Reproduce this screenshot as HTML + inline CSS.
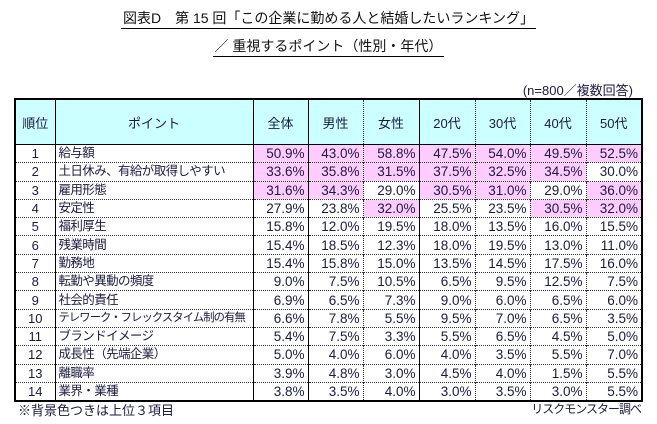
<!DOCTYPE html>
<html><head><meta charset="utf-8"><style>
body{margin:0;width:657px;height:424px;background:#fff;font-family:"Liberation Sans","Noto Sans CJK JP",sans-serif;color:#1a1a40;position:relative;overflow:hidden}
.t{position:absolute;left:0;width:657px;text-align:center;font-size:14px;color:#111}
.t span{border-bottom:1.5px solid #000;padding:0 2px 2px}
table{position:absolute;left:14px;top:98px;border-collapse:collapse;border:2px solid #000;font-size:13px;table-layout:fixed;width:627px}
td{height:17.3px;padding:0 3px;border-top:1px dotted #333;border-left:1px dotted #333;white-space:nowrap;line-height:17px;overflow:hidden}
th{height:42px;font-weight:normal;background:#ccffff;border-left:1px dotted #333;border-bottom:1.5px solid #000;font-size:13px}
.s{border-left:1px solid #000}
td.n{text-align:right;font-size:13.5px}
td.c{text-align:center}
td.k{font-size:12.5px;letter-spacing:-0.6px}
.p{background:#ffccff}
</style></head><body>
<div class="t" style="top:8px"><span>図表D　第 15 回「この企業に勤める人と結婚したいランキング」</span></div>
<div class="t" style="top:36px"><span>／ 重視するポイント（性別・年代）</span></div>
<div style="position:absolute;right:24px;top:80px;font-size:13px">(n=800／複数回答)</div>
<table>
<colgroup><col style="width:40px"><col style="width:198px"><col style="width:55px"><col style="width:55px"><col style="width:56px"><col style="width:56px"><col style="width:55px"><col style="width:56px"><col style="width:56px"></colgroup>
<tr><th>順位</th><th class="s">ポイント</th><th class="s">全体</th><th class="s">男性</th><th>女性</th><th class="s">20代</th><th>30代</th><th>40代</th><th>50代</th></tr>
<tr><td class="c" style="border-top:none">1</td><td class="s k" style="border-top:none">給与額</td><td class="n s p" style="border-top:none">50.9%</td><td class="n s p" style="border-top:none">43.0%</td><td class="n p" style="border-top:none">58.8%</td><td class="n s p" style="border-top:none">47.5%</td><td class="n p" style="border-top:none">54.0%</td><td class="n p" style="border-top:none">49.5%</td><td class="n p" style="border-top:none">52.5%</td></tr>
<tr><td class="c">2</td><td class="s k">土日休み、有給が取得しやすい</td><td class="n s p">33.6%</td><td class="n s p">35.8%</td><td class="n p">31.5%</td><td class="n s p">37.5%</td><td class="n p">32.5%</td><td class="n p">34.5%</td><td class="n">30.0%</td></tr>
<tr><td class="c">3</td><td class="s k">雇用形態</td><td class="n s p">31.6%</td><td class="n s p">34.3%</td><td class="n">29.0%</td><td class="n s p">30.5%</td><td class="n p">31.0%</td><td class="n">29.0%</td><td class="n p">36.0%</td></tr>
<tr><td class="c">4</td><td class="s k">安定性</td><td class="n s">27.9%</td><td class="n s">23.8%</td><td class="n p">32.0%</td><td class="n s">25.5%</td><td class="n">23.5%</td><td class="n p">30.5%</td><td class="n p">32.0%</td></tr>
<tr><td class="c">5</td><td class="s k">福利厚生</td><td class="n s">15.8%</td><td class="n s">12.0%</td><td class="n">19.5%</td><td class="n s">18.0%</td><td class="n">13.5%</td><td class="n">16.0%</td><td class="n">15.5%</td></tr>
<tr><td class="c">6</td><td class="s k">残業時間</td><td class="n s">15.4%</td><td class="n s">18.5%</td><td class="n">12.3%</td><td class="n s">18.0%</td><td class="n">19.5%</td><td class="n">13.0%</td><td class="n">11.0%</td></tr>
<tr><td class="c">7</td><td class="s k">勤務地</td><td class="n s">15.4%</td><td class="n s">15.8%</td><td class="n">15.0%</td><td class="n s">13.5%</td><td class="n">14.5%</td><td class="n">17.5%</td><td class="n">16.0%</td></tr>
<tr><td class="c">8</td><td class="s k">転勤や異動の頻度</td><td class="n s">9.0%</td><td class="n s">7.5%</td><td class="n">10.5%</td><td class="n s">6.5%</td><td class="n">9.5%</td><td class="n">12.5%</td><td class="n">7.5%</td></tr>
<tr><td class="c">9</td><td class="s k">社会的責任</td><td class="n s">6.9%</td><td class="n s">6.5%</td><td class="n">7.3%</td><td class="n s">9.0%</td><td class="n">6.0%</td><td class="n">6.5%</td><td class="n">6.0%</td></tr>
<tr><td class="c">10</td><td class="s k" style="font-size:11.3px;letter-spacing:-0.9px">テレワーク・フレックスタイム制の有無</td><td class="n s">6.6%</td><td class="n s">7.8%</td><td class="n">5.5%</td><td class="n s">9.5%</td><td class="n">7.0%</td><td class="n">6.5%</td><td class="n">3.5%</td></tr>
<tr><td class="c">11</td><td class="s k">ブランドイメージ</td><td class="n s">5.4%</td><td class="n s">7.5%</td><td class="n">3.3%</td><td class="n s">5.5%</td><td class="n">6.5%</td><td class="n">4.5%</td><td class="n">5.0%</td></tr>
<tr><td class="c">12</td><td class="s k">成長性（先端企業）</td><td class="n s">5.0%</td><td class="n s">4.0%</td><td class="n">6.0%</td><td class="n s">4.0%</td><td class="n">3.5%</td><td class="n">5.5%</td><td class="n">7.0%</td></tr>
<tr><td class="c">13</td><td class="s k">離職率</td><td class="n s">3.9%</td><td class="n s">4.8%</td><td class="n">3.0%</td><td class="n s">4.5%</td><td class="n">4.0%</td><td class="n">1.5%</td><td class="n">5.5%</td></tr>
<tr><td class="c">14</td><td class="s k">業界・業種</td><td class="n s">3.8%</td><td class="n s">3.5%</td><td class="n">4.0%</td><td class="n s">3.0%</td><td class="n">3.5%</td><td class="n">3.0%</td><td class="n">5.5%</td></tr>
</table>
<div style="position:absolute;left:18px;top:400px;font-size:13px">※背景色つきは上位３項目</div>
<div style="position:absolute;right:16px;top:400px;font-size:12px;letter-spacing:-1px">リスクモンスター調べ</div>
</body></html>
